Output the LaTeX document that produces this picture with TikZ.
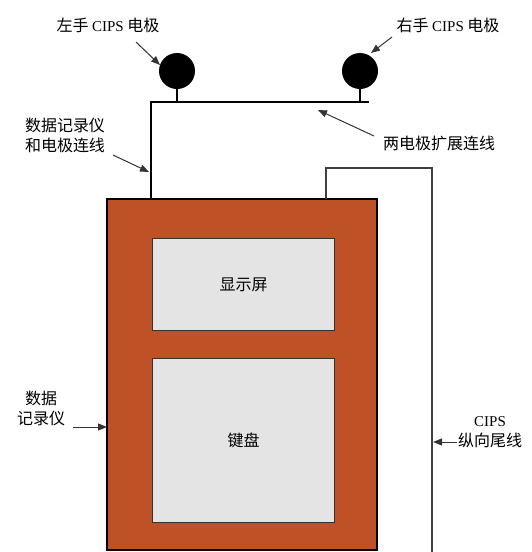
\documentclass[tikz,border=0pt]{standalone}
\usepackage{fontspec}
\setmainfont{Liberation Serif}
\newfontfamily\cjk{Noto Sans CJK SC}
\usetikzlibrary{arrows.meta}
\definecolor{rust}{RGB}{190,82,38}
\definecolor{panel}{RGB}{228,228,228}
\begin{document}
\begin{tikzpicture}[x=1pt,y=-1pt,
  lbl/.style={font=\cjk\fontsize{16}{20}\selectfont, inner sep=0pt, align=center},
  ptr/.style={draw=black!80, line width=1pt, -{Triangle[length=9pt,width=7pt]}},
  wire/.style={draw=black, line width=2.4pt},
  tail/.style={draw=black!75, line width=1.2pt}]
\useasboundingbox (0,0) rectangle (531,552);
% logger body
\filldraw[fill=rust, draw=black, line width=1.6pt] (107,199) rectangle (377,550);
\node[draw=black!80, line width=1pt, fill=panel, minimum width=182pt, minimum height=92pt, anchor=north west, inner sep=0pt] (disp) at (152,238) {};
\node[lbl] at (disp.center) {显示屏};
\node[draw=black!80, line width=1pt, fill=panel, minimum width=182pt, minimum height=164pt, anchor=north west, inner sep=0pt] (kb) at (152,358) {};
\node[lbl] at (kb.center) {键盘};
% electrodes
\node[circle, fill=black, minimum size=36pt, inner sep=0pt] (el) at (177,71) {};
\node[circle, fill=black, minimum size=36pt, inner sep=0pt] (er) at (360,71) {};
\coordinate (wl) at (151,102);
\coordinate (wr) at (369,102);
\coordinate (wb) at (151,199);
\draw[wire] (wb) -- (wl) -- (wr);
\draw[draw=black, line width=1.4pt] (el.south) -- (el.south |- wl);
\draw[draw=black, line width=1.4pt] (er.south) -- (er.south |- wl);
% CIPS tail
\coordinate (t0) at (326,199);
\coordinate (t1) at (326,168);
\coordinate (t2) at (432,168);
\coordinate (t3) at (432,552);
\draw[tail] (t0) -- (t1) -- (t2) -- (t3);
% labels
\node[lbl] (lL) at (108,25) {左手 {\rmfamily\fontsize{15}{18}\selectfont CIPS} 电极};
\node[lbl] (lR) at (448,25) {右手 {\rmfamily\fontsize{15}{18}\selectfont CIPS} 电极};
\node[lbl] (lE) at (439,143) {两电极扩展连线};
\node[lbl, align=left] (lW) at (65,135) {数据记录仪\\和电极连线};
\node[lbl] (lD) at (41,408) {数据\\记录仪};
\node[lbl] (lC) at (490,432) {{\rmfamily\fontsize{15}{18}\selectfont CIPS}\\纵向尾线};
\coordinate (aL) at (160,65);
\coordinate (aR) at (371,53);
\coordinate (aE) at (318,110);
\coordinate (aW) at (149,172);
\coordinate (aD) at (107,427);
\coordinate (aC) at (433,442);
\draw[ptr] (136,42) -- (aL);
\draw[ptr] (392,37) -- (aR);
\draw[ptr] (374,136) -- (aE);
\draw[ptr] (113,155) -- (aW);
\draw[ptr] (73,427) -- (aD);
\draw[ptr] (457,442) -- (aC);
\end{tikzpicture}
\end{document}
